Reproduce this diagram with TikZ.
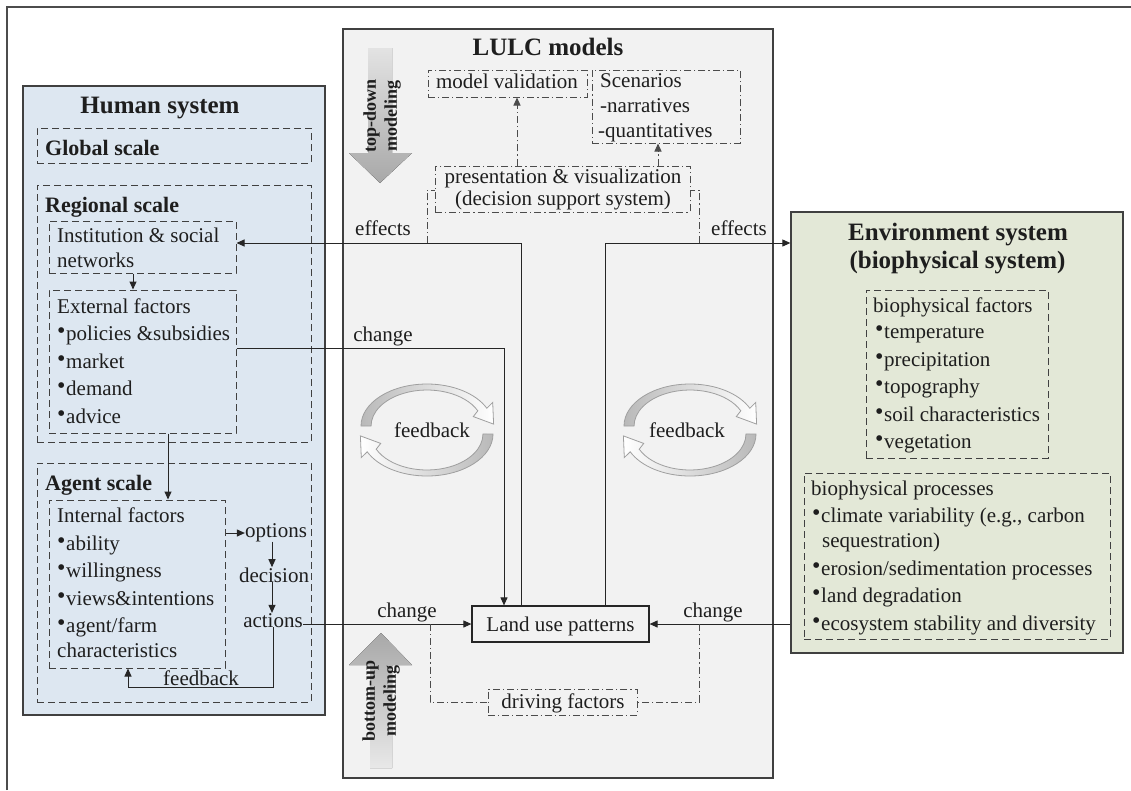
\documentclass[tikz,border=0pt]{standalone}
\usepackage{fontspec}
\setmainfont{Liberation Serif}
\usetikzlibrary{arrows.meta,fit}
\definecolor{humanfill}{HTML}{DDE7F1}
\definecolor{lulcfill}{HTML}{F2F2F2}
\definecolor{envfill}{HTML}{E3E8D7}
\definecolor{ink}{HTML}{1E1E1E}
\newcommand\bul{\makebox[9pt][l]{\raisebox{1.5pt}{\fontsize{24}{24}\selectfont\textbullet}}}
\tikzset{
  bigbox/.style={draw=black!75, line width=1.3pt, inner sep=0pt},
  dbox/.style={draw=black!75, line width=1pt, dash pattern=on 7pt off 4pt, inner sep=0pt},
  ddbox/.style={draw=black!70, line width=1pt, dash pattern=on 7pt off 3pt on 1.2pt off 3pt, inner sep=0pt},
  conn/.style={draw=black!85, line width=1pt},
  arr/.style={conn, -{Triangle[length=8pt,width=7pt]}},
  darr/.style={ddbox, -{Triangle[length=8pt,width=7pt]}},
  txt/.style={inner sep=0pt, font=\fontsize{21}{25}\selectfont, text=ink, anchor=base west},
  ctxt/.style={txt, anchor=base},
  titletxt/.style={inner sep=0pt, font=\bfseries\fontsize{25}{30}\selectfont, text=ink, anchor=base},
  scaletxt/.style={inner sep=0pt, font=\bfseries\fontsize{22}{26}\selectfont, text=ink, anchor=base west},
  vtxt/.style={inner sep=0pt, font=\bfseries\fontsize{18}{21}\selectfont, text=ink, rotate=90, align=center},
  cyc/.style={draw=gray!75, line width=0.8pt},
}
\begin{document}
\begin{tikzpicture}[x=1pt,y=-1pt]
\useasboundingbox (0,0) rectangle (1131,790);
% outer frame
\draw[black!70, line width=2.6pt] (7,790) -- (7,7) -- (1131,7);

% big boxes
\node[bigbox, fill=humanfill, fit={(23,86) (325,715)}] (human) {};
\node[bigbox, fill=lulcfill, fit={(343,29) (773,778)}] (lulc) {};
\node[bigbox, fill=envfill, fit={(791,212) (1123,653)}] (env) {};

% human system inner boxes
\node[dbox, fit={(37,128) (311,163)}] (global) {};
\node[dbox, fit={(37,185) (311,442)}] (regional) {};
\node[dbox, fit={(49,221) (236,273)}] (inst) {};
\node[dbox, fit={(49,290) (236,433)}] (ext) {};
\node[dbox, fit={(37,463) (311,702)}] (agent) {};
\node[dbox, fit={(49,500) (225,668)}] (intf) {};

% LULC inner boxes
\node[ddbox, minimum width=159pt, minimum height=27pt] (mv) at (507.5,83.5) {};
\node[ddbox, fit={(592,70) (740,143)}] (scen) {};
\node[ddbox, fit={(435,166) (690,212)}] (pres) {};
\node[ddbox, minimum width=149pt, minimum height=26pt] (drv) at (562.5,702) {};
\node[draw=black!85, line width=1.2pt, inner sep=0pt, minimum width=177pt, minimum height=36pt] (lup) at (560.5,624) {};

% env inner boxes
\node[dbox, fit={(866,290) (1048,458)}] (bfac) {};
\node[dbox, fit={(804,473) (1110,639)}] (bproc) {};

% modeling arrows
\fill[top color=gray!22, bottom color=gray!68] (368,48) -- (392,48) -- (392,153) -- (412,153) -- (380,183) -- (349,153) -- (368,153) -- cycle;
\fill[top color=gray!68, bottom color=gray!18] (370,768) -- (392,768) -- (392,665) -- (412,665) -- (381,633) -- (349,665) -- (370,665) -- cycle;
\node[vtxt] (td) at (382,116) {top-down\\modeling};
\node[vtxt] (bu) at (381,701) {bottom-up\\modeling};

% feedback cycles
\foreach \cx in {427, 690}{
  \begin{scope}[shift={(\cx,430)}, yscale=-1]
    \path[cyc, left color=gray!55, right color=white]
      (-66,4) arc[start angle=180, end angle=25, x radius=66, y radius=42]
      -- (65.7,27.6) -- (66.6,5.9) -- (46.3,13.4) -- (50.8,19.2)
      arc[start angle=25, end angle=180, x radius=56, y radius=36] -- cycle;
    \path[cyc, left color=white, right color=gray!55]
      (66,-4) arc[start angle=0, end angle=-155, x radius=66, y radius=42]
      -- (-65.7,-27.6) -- (-66.6,-5.9) -- (-46.3,-13.4) -- (-50.8,-19.2)
      arc[start angle=-155, end angle=0, x radius=56, y radius=36] -- cycle;
  \end{scope}
}

% text: human system
\node[titletxt] at (160,113) {Human system};
\node[scaletxt] at (45,155) {Global scale};
\node[scaletxt] at (45,212) {Regional scale};
\node[txt] at (57,242) {Institution \& social};
\node[txt] at (57,267) {networks};
\node[txt] at (57,313) {External factors};
\node[txt] at (57,340) {\bul policies \&subsidies};
\node[txt] at (57,368) {\bul market};
\node[txt] at (57,395) {\bul demand};
\node[txt] at (57,423) {\bul advice};
\node[scaletxt] at (45,490) {Agent scale};
\node[txt] at (57,522) {Internal factors};
\node[txt] at (57,550) {\bul ability};
\node[txt] at (57,577) {\bul willingness};
\node[txt] at (57,605) {\bul views\&intentions};
\node[txt] at (57,632) {\bul agent/farm};
\node[txt] at (57,657) {characteristics};
\node[ctxt] (opt) at (276,537) {options};
\node[ctxt] (dec) at (274,582) {decision};
\node[ctxt] (act) at (273,627) {actions};
\node[txt] at (163,685) {feedback};

% text: LULC
\node[titletxt] at (548,55) {LULC models};
\node[ctxt] at (507,88) {model validation};
\node[txt] at (600,87) {Scenarios};
\node[txt] at (600,112) {-narratives};
\node[txt] at (598,137) {-quantitatives};
\node[ctxt] at (563,183) {presentation \& visualization};
\node[ctxt] at (563,205) {(decision support system)};
\node[ctxt] at (383,235) {effects};
\node[ctxt] at (739,235) {effects};
\node[ctxt] at (383,341) {change};
\node[ctxt] at (432,437) {feedback};
\node[ctxt] at (687,437) {feedback};
\node[ctxt] at (407,617) {change};
\node[ctxt] at (713,617) {change};
\node[ctxt] at (560.5,631) {Land use patterns};
\node[ctxt] at (563,708) {driving factors};

% text: environment
\node[titletxt] at (958,240) {Environment system};
\node[titletxt] at (957.5,268) {(biophysical system)};
\node[txt] at (873,312) {biophysical factors};
\node[txt] at (875,338) {\bul temperature};
\node[txt] at (875,366) {\bul precipitation};
\node[txt] at (875,393) {\bul topography};
\node[txt] at (875,421) {\bul soil characteristics};
\node[txt] at (875,448) {\bul vegetation};
\node[txt] at (811,495) {biophysical processes};
\node[txt] at (812,522) {\bul climate variability (e.g., carbon};
\node[txt] at (822,547) {sequestration)};
\node[txt] at (812,575) {\bul erosion/sedimentation processes};
\node[txt] at (812,602) {\bul land degradation};
\node[txt] at (812,630) {\bul ecosystem stability and diversity};

% connectors: human system
\draw[arr] (inst.south -| 133,0) -- (ext.north -| 133,0);
\draw[arr] (ext.south -| 168,0) -- (intf.north -| 168,0);
\draw[arr] (intf.east |- 0,533) -- (opt.west |- 0,533);
\draw[arr] (opt.south -| 272,0) -- (dec.north -| 272,0);
\draw[arr] (dec.south -| 272,0) -- (act.north -| 272,0);
\coordinate (fbk) at (128,687);
\draw[arr] (act.south) |- (fbk) -- (fbk |- intf.south);
\draw[arr] (act.east |- lup.west) -- (lup.west);

% connectors: LULC
\draw[arr] (lup.north -| 521,0) -- (521,243) -- (inst.east |- 0,243);
\draw[arr] (lup.north -| 605,0) -- (605,243) -- (env.west |- 0,243);
\draw[arr] (ext.east |- 0,348) -- (504,348) -- (lup.north -| 504,0);
\draw[arr] (env.west |- lup.east) -- (lup.east);
\draw[darr] (pres.north -| 517,0) -- (mv.south -| 517,0);
\draw[darr] (pres.north -| 658,0) -- (scen.south -| 658,0);
\draw[ddbox] (427,243) -- (427,190) -- (pres.west |- 0,190);
\draw[ddbox] (699,243) -- (699,190) -- (pres.east |- 0,190);
\draw[ddbox] (430,624) |- (drv.west);
\draw[ddbox] (699,624) |- (drv.east);
\end{tikzpicture}
\end{document}
